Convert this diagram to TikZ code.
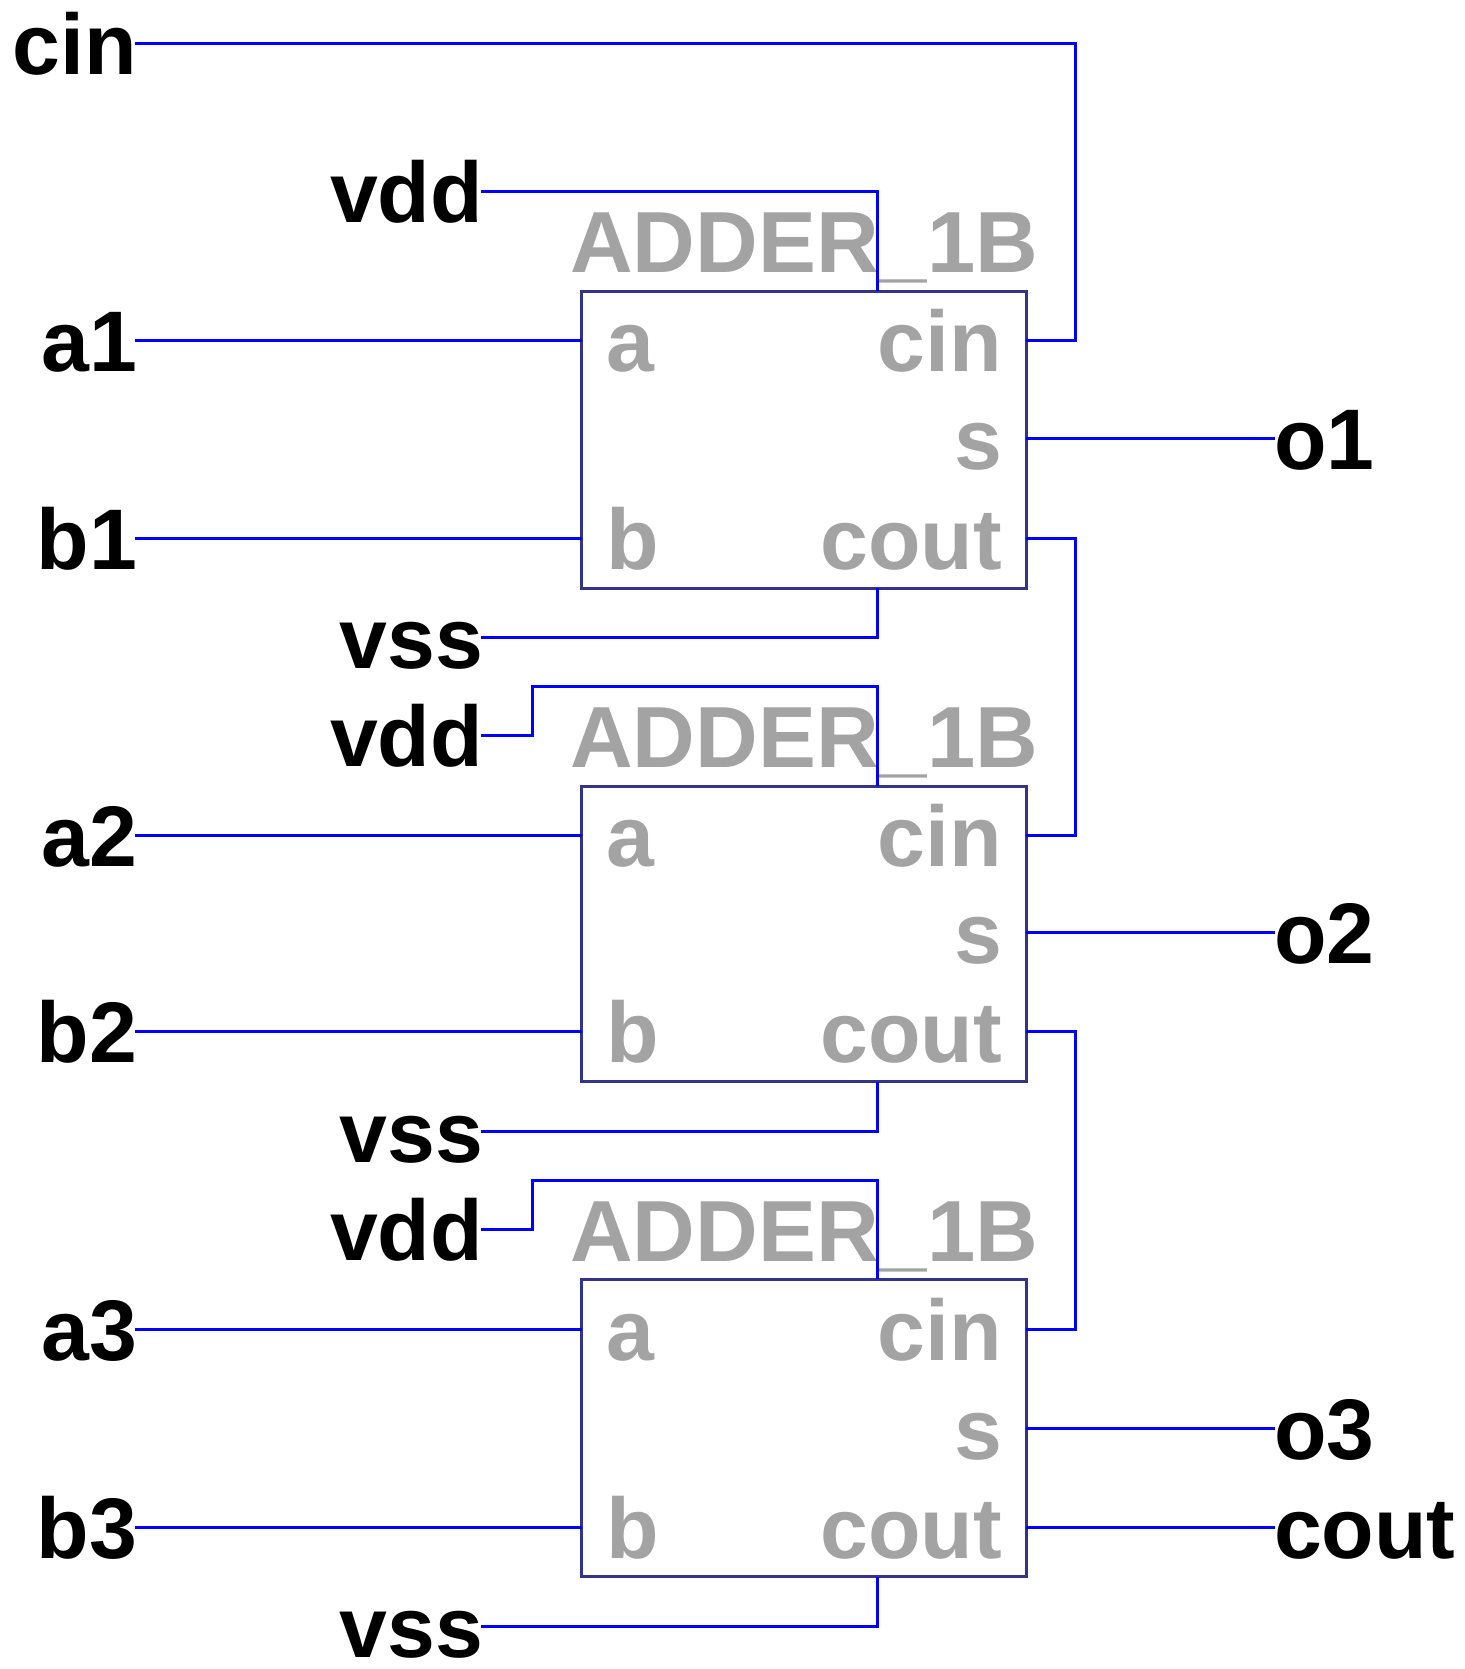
\documentclass[tikz,border=0pt]{standalone}
\usepackage{fontspec}
\setmainfont{Liberation Sans}
\definecolor{wireblue}{HTML}{0000FF}
\definecolor{boxnavy}{HTML}{333388}
\definecolor{portgray}{HTML}{A3A3A3}
\tikzset{
  lab/.style={inner sep=0pt,outer sep=0pt,text height=31pt,text depth=0pt,font=\fontsize{43}{43}\selectfont\bfseries},
  pin/.style={lab,text=black},
  pinl/.style={pin,anchor=east,execute at end node={\kern-1pt}},
  pinr/.style={pin,anchor=west,execute at begin node={\kern-0.5pt}},
  port/.style={lab,text=portgray},
  title/.style={inner sep=0pt,outer sep=0pt,anchor=base,text=portgray,font=\fontsize{43.4}{43.4}\selectfont\bfseries},
  adder/.style={draw=boxnavy,line width=1.5pt,rectangle,inner sep=0pt,outer sep=0pt,minimum width=222.35pt},
  wire/.style={draw=wireblue,line width=1.5pt,line join=miter}
}
\begin{document}
\begin{tikzpicture}[x=0.5pt,y=-0.5pt]
\useasboundingbox (0,0) rectangle (1465,1669);
% instance titles
\node[title] (t1) at (804.2,272) {ADDER\_1B};
\node[title] (t2) at (804.2,767.3) {ADDER\_1B};
\node[title] (t3) at (804.2,1261) {ADDER\_1B};
% instance boxes
\node[adder,minimum height=148.5pt] (box1) at (804.05,439.5) {};
\node[adder,minimum height=147.85pt] (box2) at (804.05,933.85) {};
\node[adder,minimum height=148.75pt] (box3) at (804.05,1428) {};
% ports
\node[port,anchor=west] (pa1) at (606,340.7) {a};
\node[port,anchor=west] (pb1) at (606,538.7) {b};
\node[port,anchor=east] (pc1) at (1002,340.7) {cin};
\node[port,anchor=east] (ps1) at (1002,438.7) {s};
\node[port,anchor=east] (po1) at (1002,538.7) {cout};
\node[port,anchor=west] (pa2) at (606,835.8) {a};
\node[port,anchor=west] (pb2) at (606,1031.7) {b};
\node[port,anchor=east] (pc2) at (1002,835.8) {cin};
\node[port,anchor=east] (ps2) at (1002,932.7) {s};
\node[port,anchor=east] (po2) at (1002,1031.7) {cout};
\node[port,anchor=west] (pa3) at (606,1329.3) {a};
\node[port,anchor=west] (pb3) at (606,1527.3) {b};
\node[port,anchor=east] (pc3) at (1002,1329.3) {cin};
\node[port,anchor=east] (ps3) at (1002,1428.3) {s};
\node[port,anchor=east] (po3) at (1002,1527.3) {cout};
% external pins
\node[pinl] (cin) at (135,43.5) {cin};
\node[pinl] (a1) at (135,340.7) {a1};
\node[pinl] (b1) at (135,538.7) {b1};
\node[pinl] (a2) at (135,835.8) {a2};
\node[pinl] (b2) at (135,1031.7) {b2};
\node[pinl] (a3) at (135,1329.3) {a3};
\node[pinl] (b3) at (135,1527.3) {b3};
\node[pinl] (vdd1) at (481,192) {vdd};
\node[pinl] (vss1) at (481,637.3) {vss};
\node[pinl] (vdd2) at (481,735.7) {vdd};
\node[pinl] (vss2) at (481,1131) {vss};
\node[pinl] (vdd3) at (481,1229.7) {vdd};
\node[pinl] (vss3) at (481,1626) {vss};
\node[pinr] (o1) at (1275,438.7) {o1};
\node[pinr] (o2) at (1275,932.7) {o2};
\node[pinr] (o3) at (1275,1428.3) {o3};
\node[pinr] (cout) at (1275,1527.3) {cout};
% helper coordinates
\coordinate (rail) at (1075.5,0);
\coordinate (jog2) at (532.4,686.7);
\coordinate (jog3) at (532.4,1180.3);
\coordinate (sup1) at (877.4,291);
\coordinate (sup2) at (877.4,786);
\coordinate (sup3) at (877.4,1279.3);
\coordinate (gnd1) at (877.4,588);
\coordinate (gnd2) at (877.4,1081.7);
\coordinate (gnd3) at (877.4,1576.8);
% wires
\draw[wire] (cin.east) -| (rail |- pc1) -- (box1.east |- pc1);
\draw[wire] (box1.east |- po1) -| (rail |- pc2) -- (box2.east |- pc2);
\draw[wire] (box2.east |- po2) -| (rail |- pc3) -- (box3.east |- pc3);
\draw[wire] (a1.east) -- (box1.west |- a1.east);
\draw[wire] (b1.east) -- (box1.west |- b1.east);
\draw[wire] (a2.east) -- (box2.west |- a2.east);
\draw[wire] (b2.east) -- (box2.west |- b2.east);
\draw[wire] (a3.east) -- (box3.west |- a3.east);
\draw[wire] (b3.east) -- (box3.west |- b3.east);
\draw[wire] (box1.east |- ps1) -- (o1.west);
\draw[wire] (box2.east |- ps2) -- (o2.west);
\draw[wire] (box3.east |- ps3) -- (o3.west);
\draw[wire] (box3.east |- po3) -- (cout.west);
\draw[wire] (vdd1.east) -| (sup1);
\draw[wire] (vdd2.east) -| (jog2) -| (sup2);
\draw[wire] (vdd3.east) -| (jog3) -| (sup3);
\draw[wire] (gnd1) |- (vss1.east);
\draw[wire] (gnd2) |- (vss2.east);
\draw[wire] (gnd3) |- (vss3.east);
\end{tikzpicture}
\end{document}
